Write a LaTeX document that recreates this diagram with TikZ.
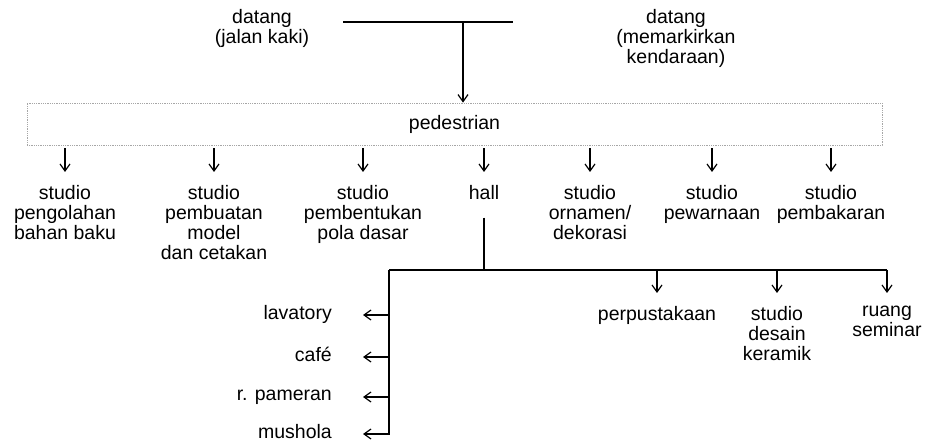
\documentclass[tikz,border=0pt]{standalone}
\usepackage{fontspec}
\setmainfont{Liberation Sans}
\usetikzlibrary{arrows.meta}

\begin{document}
\begin{tikzpicture}[x=1pt,y=-1pt,
  lbl/.style={font=\fontsize{19.5}{20}\selectfont, align=center, inner sep=0pt, anchor=north, execute at begin node=\strut},
  side/.style={font=\fontsize{19.5}{20}\selectfont, inner sep=0pt, anchor=east, execute at begin node=\strut},
  arr/.style={-{Straight Barb[length=7pt,width=10pt]}, line width=1.2pt},
  ln/.style={line width=1.2pt},
  pedbox/.style={draw=gray!70, densely dotted, line width=0.8pt, minimum width=855pt, minimum height=42pt, font=\fontsize{19.5}{20}\selectfont}]
  \useasboundingbox (0,0) rectangle (927,446);
  % arrival
  \node[lbl] (walk) at (262,9) {datang\\(jalan kaki)};
  \node[lbl] (park) at (676,9) {datang\\(memarkirkan\\kendaraan)};
  \coordinate (wl) at (343,22);
  \coordinate (pl) at (513,22);
  \coordinate (mid) at (463,22);
  \draw[ln] (wl) -- (pl);
  \node[pedbox] (ped) at (454.5,124) {pedestrian};
  \draw[arr] (mid) -- (ped.north -| mid);
  % studios
  \node[lbl] (s1) at (65,185) {studio\\pengolahan\\bahan baku};
  \node[lbl] (s2) at (214,185) {studio\\pembuatan\\model\\dan cetakan};
  \node[lbl] (s3) at (363,185) {studio\\pembentukan\\pola dasar};
  \node[lbl] (hall) at (484,185) {hall};
  \node[lbl] (s4) at (590,185) {studio\\ornamen/\\dekorasi};
  \node[lbl] (s5) at (712,185) {studio\\pewarnaan};
  \node[lbl] (s6) at (831,185) {studio\\pembakaran};
  \foreach \n in {s1,s2,s3,hall,s4,s5,s6}
    \draw[arr, shorten <=3pt, shorten >=13pt] (ped.south -| \n.north) -- (\n.north);
  % hall
  \coordinate (hj) at (484,270);
  \coordinate (lj) at (389,270);
  \coordinate (rj) at (887,270);
  \draw[ln, shorten <=12pt] (hall.south) -- (hj);
  \draw[ln] (lj) -- (rj);
  \node[lbl] (lib) at (657,306) {perpustakaan};
  \node[lbl] (dsn) at (777,306) {studio\\desain\\keramik};
  \node[lbl] (sem) at (887,306) {ruang\\seminar};
  \foreach \n in {lib,dsn,sem}
    \draw[arr, shorten >=13pt] (\n.north |- lj) -- (\n.north);
  % left side
  \node[side] (lav) at (332,315) {lavatory};
  \node[side] (cafe) at (332,357) {café};
  \node[side] (pam) at (332,397) {r. pameran};
  \node[side] (mus) at (332,434) {mushola};
  \foreach \n in {lav,cafe,pam}
    \draw[arr, shorten >=31pt] (\n.east -| lj) -- (\n.east);
  \draw[arr, shorten >=31pt] (lj) |- (mus.east);
\end{tikzpicture}
\end{document}
